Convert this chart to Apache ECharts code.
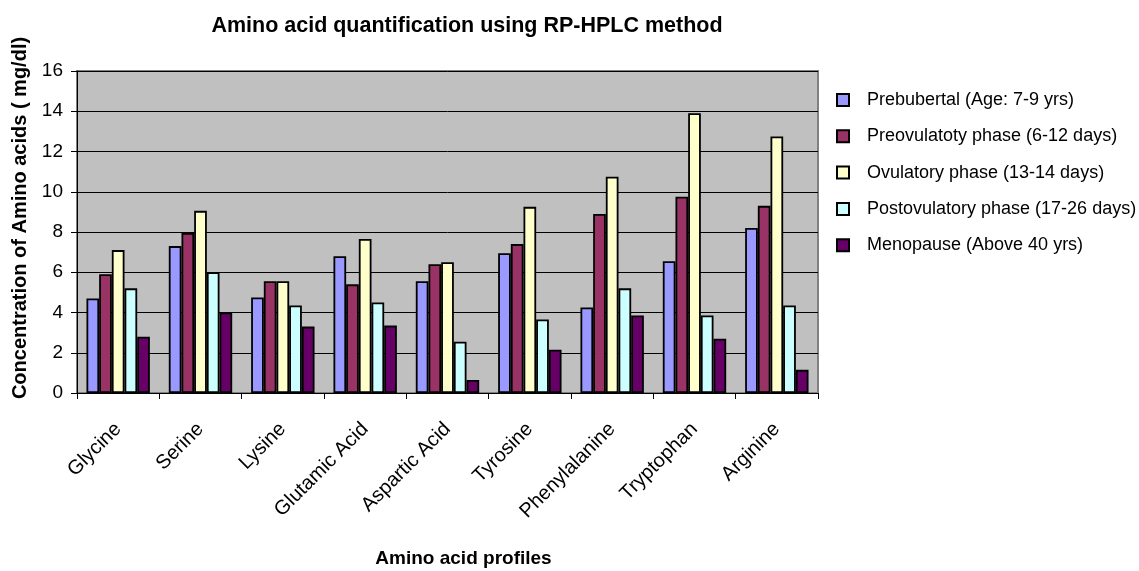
<!DOCTYPE html>
<html>
<head>
<meta charset="utf-8">
<script src="https://cdn.jsdelivr.net/npm/echarts@6/dist/echarts.min.js"></script>
<style>
html,body{margin:0;padding:0;background:#fff;}
#chart{width:1139px;height:571px;}
</style>
</head>
<body>
<div id="chart"></div>
<script>
const categories = ['Glycine','Serine','Lysine','Glutamic Acid','Aspartic Acid','Tyrosine','Phenylalanine','Tryptophan','Arginine'];
const seriesNames = ['Prebubertal (Age: 7-9 yrs)','Preovulatoty phase (6-12 days)','Ovulatory phase (13-14 days)','Postovulatory phase (17-26 days)','Menopause (Above 40 yrs)'];
const prebubertal   = [4.7, 7.3, 4.75, 6.8, 5.55, 6.95, 4.25, 6.55, 8.2];
const preovulatory  = [5.9, 7.95, 5.55, 5.4, 6.4, 7.4, 8.9, 9.75, 9.3];
const ovulatory     = [7.1, 9.05, 5.55, 7.65, 6.5, 9.25, 10.75, 13.9, 12.75];
const postovulatory = [5.2, 6.0, 4.35, 4.5, 2.55, 3.65, 5.2, 3.85, 4.35];
const menopause     = [2.8, 4.0, 3.3, 3.35, 0.65, 2.15, 3.85, 2.7, 1.15];
const yTicks = [0, 2, 4, 6, 8, 10, 12, 14, 16];

const colors = ['#9999FF','#993366','#FFFFCC','#CCFFFF','#660066'];
const values = [prebubertal, preovulatory, ovulatory, postovulatory, menopause];
const FONT = '"Liberation Sans", Arial, sans-serif';

const chart = echarts.init(document.getElementById('chart'));
chart.setOption({
  animation: false,
  backgroundColor: '#fff',
  title: {
    text: 'Amino acid quantification using RP-HPLC method',
    left: 462, top: 10, textAlign: 'center',
    textStyle: {fontFamily: FONT, fontSize: 21.5, fontWeight: 'bold', color: '#000'}
  },
  legend: {
    orient: 'vertical',
    left: 836, top: 90, padding: 0,
    itemWidth: 12, itemHeight: 12, itemGap: 16.3,
    icon: 'rect',
    itemStyle: {borderColor: '#000', borderWidth: 2},
    textStyle: {fontFamily: FONT, fontSize: 18, color: '#000', lineHeight: 20, padding: [0,0,0,13]},
    data: seriesNames
  },
  grid: {
    left: 77, right: 321, top: 71, bottom: 178,
    outerBoundsMode: 'none',
    containLabel: false,
    show: true, backgroundColor: '#C0C0C0', borderColor: '#808080', borderWidth: 2
  },
  xAxis: {
    type: 'category',
    data: categories,
    name: 'Amino acid profiles',
    nameLocation: 'middle', nameGap: 156,
    nameTextStyle: {fontFamily: FONT, fontSize: 19, fontWeight: 'bold', color: '#000', padding: [0,0,0,32]},
    axisLine: {lineStyle: {color: '#000', width: 1}},
    axisTick: {show: true, length: 6, lineStyle: {color: '#000'}},
    axisLabel: {rotate: 45, margin: 33, fontFamily: FONT, fontSize: 20, color: '#000', interval: 0}
  },
  yAxis: {
    type: 'value',
    min: yTicks[0], max: yTicks[yTicks.length-1], interval: 2,
    name: 'Concentration of Amino acids ( mg/dl)',
    nameLocation: 'middle', nameGap: 46,
    nameTextStyle: {fontFamily: FONT, fontSize: 20, fontWeight: 'bold', color: '#000', padding: [0,0,0,28]},
    axisLine: {show: true, lineStyle: {color: '#000', width: 1}},
    axisTick: {show: true, length: 6, lineStyle: {color: '#000'}},
    axisLabel: {margin: 14, fontFamily: FONT, fontSize: 19, color: '#000'},
    splitLine: {show: true, lineStyle: {color: '#000', width: 1}}
  },
  series: seriesNames.map((n, i) => ({
    name: n,
    type: 'bar',
    data: values[i],
    barGap: '0%',
    barCategoryGap: '23%',
    itemStyle: {color: colors[i], borderColor: '#000', borderWidth: 1.8}
  }))
});
</script>
</body>
</html>
